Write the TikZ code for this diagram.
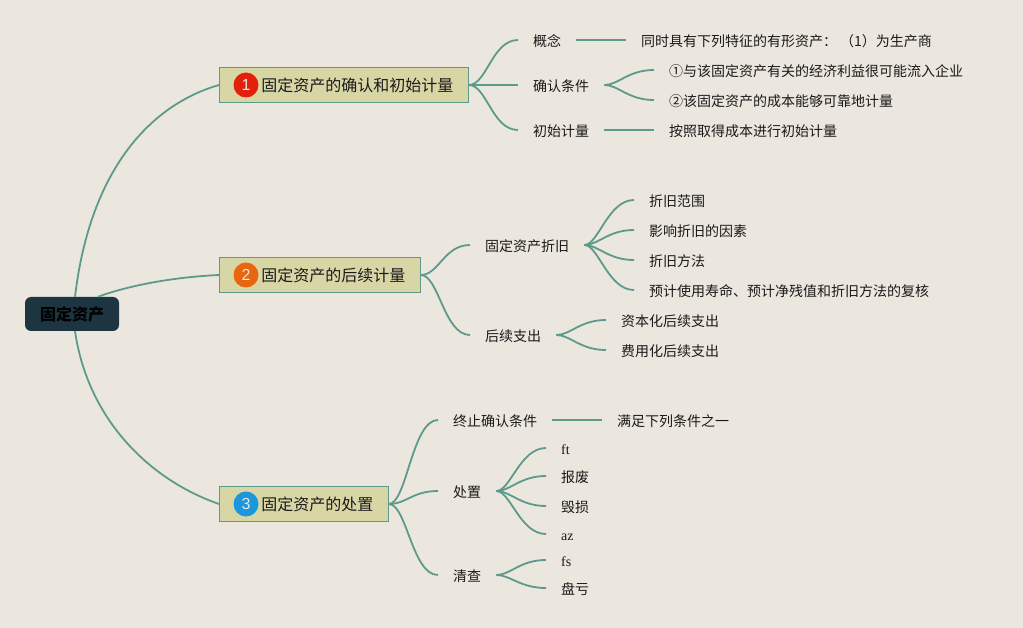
\documentclass[tikz,border=0pt]{standalone}
\usepackage{fontspec}
\setmainfont{Noto Sans CJK SC}
\newfontfamily\latinfont{Liberation Serif}
\newfontfamily\badgefont{Liberation Sans}
\definecolor{paper}{HTML}{EBE7DF}
\definecolor{teal}{HTML}{5D9A8B}
\definecolor{khaki}{HTML}{D9D6A6}
\definecolor{slate}{HTML}{1C3540}
\definecolor{ink}{HTML}{1A1A1A}
\definecolor{badgeRed}{HTML}{E3200B}
\definecolor{badgeOrange}{HTML}{E8660F}
\definecolor{badgeBlue}{HTML}{1C96DC}
\tikzset{
  leaf/.style={anchor=west,inner xsep=15pt,inner ysep=0pt,text height=14pt,text depth=1pt,text=ink,font=\fontsize{14}{16}\selectfont},
  topic/.style={draw=teal,fill=khaki,line width=0.8pt,anchor=west,inner xsep=15pt,minimum height=35pt,text height=14pt,text depth=1pt,text=ink,font=\fontsize{16}{18}\selectfont},
  badge/.style={circle,inner sep=0pt,minimum size=25pt,text=paper,font=\badgefont\fontsize{16}{18}\selectfont},
  branch/.style={draw=teal,line width=1.8pt}
}
\begin{document}
\begin{tikzpicture}[x=1pt,y=-1pt]
\useasboundingbox (0,0) rectangle (1023,628);
\fill[paper] (0,0) rectangle (1023,628);

\node[fill=slate,rounded corners=6pt,minimum width=94pt,minimum height=34pt,text=black,font=\fontsize{16}{18}\selectfont\bfseries] (root) at (72,314) {固定资产};
\node[topic] (topicA) at (219,85) {\hspace*{27pt}固定资产的确认和初始计量};
\node[topic] (topicB) at (219,275) {\hspace*{27pt}固定资产的后续计量};
\node[topic] (topicC) at (219,504) {\hspace*{27pt}固定资产的处置};
\node[badge,fill=badgeRed] (badgeA) at (246,85) {1};
\node[badge,fill=badgeOrange] (badgeB) at (246,275) {2};
\node[badge,fill=badgeBlue] (badgeC) at (246,504) {3};

\foreach \Name/\X/\Y/\Label in {
  concept/518/40/概念, recog/518/85/确认条件, initial/518/130/初始计量,
  conceptText/626/40/同时具有下列特征的有形资产：\hspace{3pt}（1）为生产商,
  recogOne/654/70/①与该固定资产有关的经济利益很可能流入企业,
  recogTwo/654/100/②该固定资产的成本能够可靠地计量,
  initialText/654/130/按照取得成本进行初始计量,
  depr/470/245/固定资产折旧, later/470/335/后续支出,
  deprA/634/200/折旧范围, deprB/634/230/影响折旧的因素, deprC/634/260/折旧方法,
  deprD/634/290/预计使用寿命、预计净残值和折旧方法的复核,
  laterA/606/320/资本化后续支出, laterB/606/350/费用化后续支出,
  stop/438/420/终止确认条件, dispose/438/491/处置, check/438/575/清查,
  stopText/602/420/满足下列条件之一,
  disA/546/448/{\latinfont ft}, disB/546/476/报废, disC/546/506/毁损, disD/546/534/{\latinfont az},
  checkA/546/560/{\latinfont fs}, checkB/546/588/盘亏}{
    \node[leaf] (\Name) at (\X,\Y) {\Label};
}

\draw[branch] ([xshift=3pt]root.north) .. controls (90,170) and (150,105) .. (topicA.west);
\draw[branch] ([xshift=26pt]root.north) .. controls (130,285) and (175,277) .. (topicB.west);
\draw[branch] ([xshift=3pt]root.south) .. controls (88,420) and (150,480) .. (topicC.west);

\foreach \From/\To in {
  topicA/concept, topicA/recog, topicA/initial,
  topicB/depr, topicB/later,
  topicC/stop, topicC/dispose, topicC/check}{
    \draw[branch] (\From.east) .. controls +(18,0) and +(-26,0) .. (\To.west);
}
\foreach \From/\To in {
  recog/recogOne, recog/recogTwo,
  depr/deprA, depr/deprB, depr/deprC, depr/deprD,
  later/laterA, later/laterB,
  dispose/disA, dispose/disB, dispose/disC, dispose/disD, check/checkA, check/checkB}{
    \draw[branch] (\From.east) .. controls +(14,0) and +(-26,0) .. (\To.west);
}
\foreach \From/\To in {concept/conceptText, initial/initialText, stop/stopText}{
    \draw[branch] (\From.east) -- (\To.west);
}
\end{tikzpicture}
\end{document}
